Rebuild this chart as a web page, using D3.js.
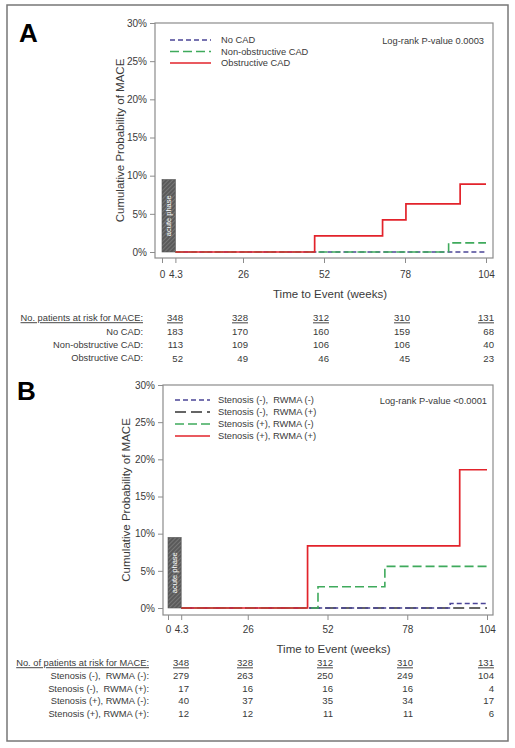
<!DOCTYPE html>
<html><head><meta charset="utf-8">
<script src="https://cdn.jsdelivr.net/npm/d3@7"></script>
<style>
html,body{margin:0;padding:0;background:#fff;}
svg{display:block;font-family:"Liberation Sans",Arial,sans-serif;}
</style></head>
<body><svg id="c" width="515" height="748"></svg>
<script>
// ---------- DATA ----------
const xTicks = [0, 4.3, 26, 52, 78, 104];
const yTicks = [0, 5, 10, 15, 20, 25, 30];
const acutePhaseEnd = 4.3;
const acutePhaseHeight = 9.5;
const riskWeeks = [4.3, 26, 52, 78, 104];

// Panel A
const aSeriesNames = ["No CAD", "Non-obstructive CAD", "Obstructive CAD"];
const aNoCadT = [4.3, 104];
const aNoCadV = [0, 0];
const aNonObsT = [4.3, 92, 104];
const aNonObsV = [0, 1.2, 1.2];
const aObsT = [4.3, 49, 70.8, 78.3, 95.7, 104];
const aObsV = [0, 2.1, 4.2, 6.3, 8.9, 8.9];
const aPValue = "Log-rank P-value 0.0003";
const aRiskHeader = "No. patients at risk for MACE:";
const aRiskTotal = [348, 328, 312, 310, 131];
const aRiskLabels = ["No CAD:", "Non-obstructive CAD:", "Obstructive CAD:"];
const aRiskNoCad = [183, 170, 160, 159, 68];
const aRiskNonObs = [113, 109, 106, 106, 40];
const aRiskObs = [52, 49, 46, 45, 23];

// Panel B
const bSeriesNames = ["Stenosis (-),  RWMA (-)", "Stenosis (-),  RWMA (+)", "Stenosis (+), RWMA (-)", "Stenosis (+), RWMA (+)"];
const bSnRnT = [4.3, 92, 104];
const bSnRnV = [0, 0.6, 0.6];
const bSnRpT = [4.3, 104];
const bSnRpV = [0, 0];
const bSpRnT = [4.3, 48.9, 70.7, 104];
const bSpRnV = [0, 2.85, 5.6, 5.6];
const bSpRpT = [4.3, 45.5, 95.1, 104];
const bSpRpV = [0, 8.35, 18.6, 18.6];
const bPValue = "Log-rank P-value <0.0001";
const bRiskHeader = "No. of patients at risk for MACE:";
const bRiskTotal = [348, 328, 312, 310, 131];
const bRiskLabels = ["Stenosis (-),  RWMA (-):", "Stenosis (-),  RWMA (+):", "Stenosis (+), RWMA (-):", "Stenosis (+), RWMA (+):"];
const bRiskSnRn = [279, 263, 250, 249, 104];
const bRiskSnRp = [17, 16, 16, 16, 4];
const bRiskSpRn = [40, 37, 35, 34, 17];
const bRiskSpRp = [12, 12, 11, 11, 6];

// ---------- STYLES ----------
const styles = {
  blue:  {color: "#4b4597", dash: "5,3", width: 1.6},
  green: {color: "#3faa5c", dash: "9,4", width: 1.6},
  black: {color: "#333333", dash: "11,5", width: 1.6},
  red:   {color: "#e2232b", dash: null, width: 1.7}
};
const smallFont = 9.3;
const tickFont = 10;
const titleFont = 11.5;

const zip = (t, v) => t.map((d, i) => ({t: d, v: v[i]}));

const panels = [
  {
    letter: "A", letterX: 19, letterY: 42,
    xr: [162, 486], yr: [252, 23],
    frame: {l: 155, t: 23, r: 493, b: 258},
    ytitleX: 120,
    tickY: 274, xtitleY: 294,
    pval: aPValue, pvalX: 484, pvalY: 41,
    legend: {x1: 170, x2: 211, tx: 221, y0: 40, dy: 11.5},
    series: [
      {name: aSeriesNames[0], pts: zip(aNoCadT, aNoCadV), st: styles.blue},
      {name: aSeriesNames[1], pts: zip(aNonObsT, aNonObsV), st: styles.green},
      {name: aSeriesNames[2], pts: zip(aObsT, aObsV), st: styles.red}
    ],
    drawOrder: [0, 1, 2],
    risk: {
      header: aRiskHeader, labelX: 143, y0: 318, dy: 13.4,
      total: aRiskTotal,
      rows: [[aRiskLabels[0], aRiskNoCad], [aRiskLabels[1], aRiskNonObs], [aRiskLabels[2], aRiskObs]],
      colX: [183, 248, 329, 410, 494]
    }
  },
  {
    letter: "B", letterX: 17, letterY: 400,
    xr: [168, 487], yr: [608, 385],
    frame: {l: 163, t: 385, r: 493, b: 615},
    ytitleX: 126,
    tickY: 629, xtitleY: 649,
    pval: bPValue, pvalX: 487, pvalY: 401,
    legend: {x1: 175, x2: 210, tx: 218, y0: 400, dy: 12},
    series: [
      {name: bSeriesNames[0], pts: zip(bSnRnT, bSnRnV), st: styles.blue},
      {name: bSeriesNames[1], pts: zip(bSnRpT, bSnRpV), st: styles.black},
      {name: bSeriesNames[2], pts: zip(bSpRnT, bSpRnV), st: styles.green},
      {name: bSeriesNames[3], pts: zip(bSpRpT, bSpRpV), st: styles.red}
    ],
    drawOrder: [1, 0, 2, 3],
    risk: {
      header: bRiskHeader, labelX: 149, y0: 663, dy: 12.7,
      total: bRiskTotal,
      rows: [[bRiskLabels[0], bRiskSnRn], [bRiskLabels[1], bRiskSnRp], [bRiskLabels[2], bRiskSpRn], [bRiskLabels[3], bRiskSpRp]],
      colX: [189, 253, 333, 413, 494]
    }
  }
];

// ---------- DRAW ----------
const svg = d3.select("#c");
const defs = svg.append("defs");
const pat = defs.append("pattern").attr("id", "hatch").attr("patternUnits", "userSpaceOnUse")
  .attr("width", 3).attr("height", 3).attr("patternTransform", "rotate(45)");
pat.append("rect").attr("width", 3).attr("height", 3).attr("fill", "#5a5a5a");
pat.append("line").attr("x1", 0).attr("y1", 0).attr("x2", 0).attr("y2", 3).attr("stroke", "#8a8a8a").attr("stroke-width", 1.2);

// outer frame
svg.append("rect").attr("x", 7).attr("y", 5).attr("width", 501).attr("height", 736)
  .attr("fill", "none").attr("stroke", "#777").attr("stroke-width", 1.5);

const txtColor = "#3a3a3a";
const axisColor = "#8c8c8c";

panels.forEach(p => {
  const g = svg.append("g");
  const x = d3.scaleLinear().domain([0, 104]).range(p.xr);
  const y = d3.scaleLinear().domain([0, 30]).range(p.yr);
  const f = p.frame;

  g.append("text").attr("x", p.letterX).attr("y", p.letterY).text(p.letter)
    .attr("font-size", 26).attr("font-weight", "bold").attr("fill", "#000");

  // frame
  g.append("rect").attr("x", f.l).attr("y", f.t).attr("width", f.r - f.l).attr("height", f.b - f.t)
    .attr("fill", "none").attr("stroke", axisColor).attr("stroke-width", 1.2);

  // y axis
  const ya = g.append("g").attr("transform", `translate(${f.l},0)`)
    .call(d3.axisLeft(y).tickValues(yTicks).tickFormat(d => d + "%").tickSize(5).tickPadding(3));
  ya.select(".domain").remove();
  ya.selectAll("line").attr("stroke", axisColor);
  ya.selectAll("text").attr("fill", txtColor).attr("font-size", tickFont).attr("font-family", "Liberation Sans, Arial, sans-serif");

  // x axis
  const xa = g.append("g").attr("transform", `translate(0,${f.b})`)
    .call(d3.axisBottom(x).tickValues(xTicks).tickFormat(d => d).tickSize(5).tickPadding(4));
  xa.select(".domain").remove();
  xa.selectAll("line").attr("stroke", axisColor);
  xa.selectAll(".tick text").attr("fill", txtColor).attr("font-size", tickFont)
    .attr("font-family", "Liberation Sans, Arial, sans-serif")
    .attr("y", p.tickY - f.b).attr("dy", "0.35em");

  // axis titles
  g.append("text").attr("x", (p.xr[0] + p.xr[1]) / 2 + 6).attr("y", p.xtitleY).attr("text-anchor", "middle")
    .attr("font-size", titleFont).attr("fill", txtColor).attr("dy", "0.35em").text("Time to Event (weeks)");
  g.append("text").attr("transform", `translate(${p.ytitleX},${(f.t + f.b) / 2}) rotate(-90)`)
    .attr("text-anchor", "middle").attr("font-size", titleFont).attr("fill", txtColor).attr("dy", "0.35em")
    .text("Cumulative Probability of MACE");

  // acute phase bar
  g.append("rect").attr("x", x(0)).attr("y", y(acutePhaseHeight))
    .attr("width", x(acutePhaseEnd) - x(0)).attr("height", y(0) - y(acutePhaseHeight))
    .attr("fill", "url(#hatch)").attr("stroke", "#555").attr("stroke-width", 0.6);
  g.append("text").attr("transform", `translate(${(x(0) + x(acutePhaseEnd)) / 2},${(y(0) + y(acutePhaseHeight)) / 2}) rotate(-90)`)
    .attr("text-anchor", "middle").attr("dy", "0.35em").attr("font-size", 7.5).attr("fill", "#fff")
    .text("acute phase");

  // curves
  const line = d3.line().x(d => x(d.t)).y(d => y(d.v)).curve(d3.curveStepAfter);
  p.drawOrder.forEach(i => {
    const s = p.series[i];
    g.append("path").datum(s.pts).attr("d", line).attr("fill", "none")
      .attr("stroke", s.st.color).attr("stroke-width", s.st.width)
      .attr("stroke-dasharray", s.st.dash);
  });

  // legend
  p.series.forEach((s, i) => {
    const ly = p.legend.y0 + i * p.legend.dy;
    g.append("line").attr("x1", p.legend.x1).attr("x2", p.legend.x2).attr("y1", ly).attr("y2", ly)
      .attr("stroke", s.st.color).attr("stroke-width", 1.5).attr("stroke-dasharray", s.st.dash);
    g.append("text").attr("x", p.legend.tx).attr("y", ly).attr("dy", "0.35em")
      .attr("font-size", smallFont).attr("fill", txtColor).style("white-space", "pre").text(s.name);
  });
  g.append("text").attr("x", p.pvalX).attr("y", p.pvalY).attr("text-anchor", "end").attr("dy", "0.35em")
    .attr("font-size", smallFont).attr("fill", txtColor).text(p.pval);

  // risk table
  const r = p.risk;
  g.append("text").attr("x", r.labelX).attr("y", r.y0).attr("text-anchor", "end").attr("dy", "0.35em")
    .attr("font-size", smallFont).attr("fill", txtColor).attr("text-decoration", "underline").text(r.header);
  r.total.forEach((v, j) => {
    g.append("text").attr("x", r.colX[j]).attr("y", r.y0).attr("text-anchor", "end").attr("dy", "0.35em")
      .attr("font-size", 9.6).attr("fill", txtColor).attr("text-decoration", "underline").text(v);
  });
  r.rows.forEach((row, i) => {
    const ry = r.y0 + (i + 1) * r.dy;
    g.append("text").attr("x", r.labelX).attr("y", ry).attr("text-anchor", "end").attr("dy", "0.35em")
      .attr("font-size", smallFont).attr("fill", txtColor).style("white-space", "pre").text(row[0]);
    row[1].forEach((v, j) => {
      g.append("text").attr("x", r.colX[j]).attr("y", ry).attr("text-anchor", "end").attr("dy", "0.35em")
        .attr("font-size", 9.6).attr("fill", txtColor).text(v);
    });
  });
});
</script></body></html>
